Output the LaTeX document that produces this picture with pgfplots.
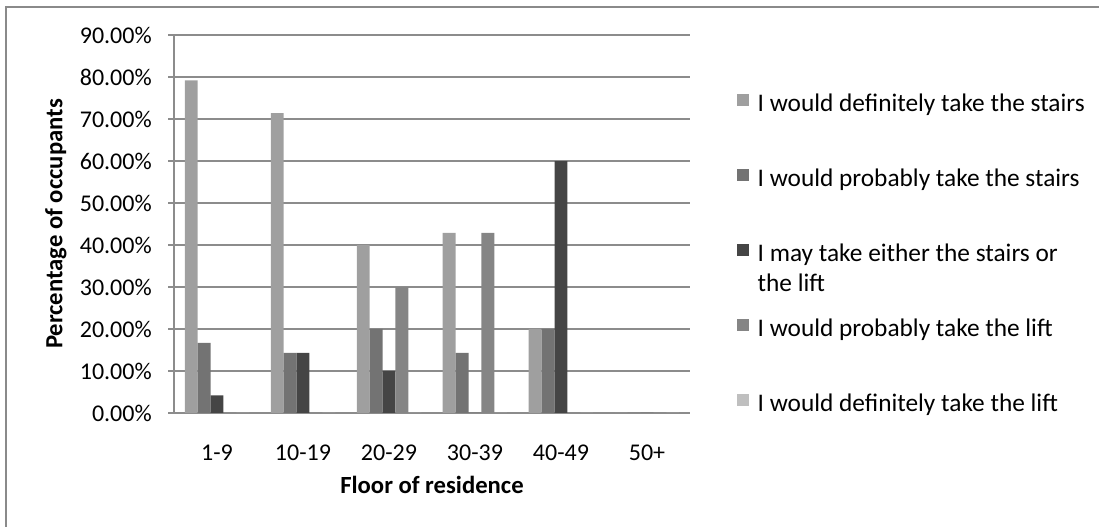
\documentclass[border=0pt]{standalone}
\usepackage{pgfplots}
\pgfplotsset{compat=1.18}
\usepackage{fontspec}
\setmainfont{Carlito}

\definecolor{gridgray}{HTML}{8C8C8C}
\definecolor{framegray}{HTML}{8A8A8A}
\definecolor{cA}{HTML}{9F9F9F}
\definecolor{cB}{HTML}{737373}
\definecolor{cC}{HTML}{454545}
\definecolor{cD}{HTML}{858585}
\definecolor{cE}{HTML}{BFBFBF}

\newcommand{\tickfont}{\fontsize{18}{22.5}\selectfont}
\newcommand{\labfont}{\fontsize{18.5}{22.5}\selectfont}
\newcommand{\legfont}{\fontsize{19}{22.5}\selectfont}

% legend square; the invisible box fixes the row pitch (56.25pt = 75px)
\pgfplotsset{
  sq/.style={draw=none, legend image code/.code={
      \path[fill=none, draw=none] (0pt,-23.625pt) rectangle (9pt,32.625pt);
      \fill[##1] (0pt,-3pt) rectangle (9pt,6pt);}},
}

\begin{document}
\begin{tikzpicture}[x=0.75pt, y=0.75pt]
\useasboundingbox (0,0) rectangle (1099,527);
\draw[framegray, line width=0.8pt] (6,0) -- (6,520) -- (1099,520);
\coordinate (O) at (174,114);

\begin{axis}[
    at={(O)}, anchor=south west,
    scale only axis,
    width=387pt, height=283.5pt,
    ybar=0pt, bar width=0.15,
    xmin=-0.5, xmax=5.5,
    ymin=0, ymax=90,
    xtick={0,...,5},
    xticklabels={1-9,10-19,20-29,30-39,40-49,50+},
    ytick={0,10,...,90},
    /pgf/number format/assume math mode=true,
    yticklabel={\pgfmathprintnumber[fixed,fixed zerofill,precision=2]{\tick}\%},
    ymajorgrids,
    grid style={gridgray, line width=1.1pt},
    axis x line*=bottom, axis y line*=left,
    axis line style={gridgray, line width=1.1pt},
    tick align=outside,
    major tick length=4.5pt,
    ytick style={gridgray, line width=1.1pt},
    xtick style={draw=none},
    ticklabel style={font=\tickfont, text=black},
    xticklabel style={anchor=base, yshift=-31.5pt, inner sep=0pt},
    yticklabel style={anchor=east, xshift=-12pt, inner sep=0pt},
    xlabel={\bfseries Floor of residence},
    ylabel={\bfseries Percentage of occupants},
    label style={font=\labfont},
    xlabel style={at={(axis description cs:0.5,-0.1905)}, anchor=center},
    ylabel style={at={(axis description cs:-0.2287,0.5)}, rotate=0, anchor=center},
    legend style={
      at={(axis description cs:1.0911,0.9379)}, anchor=north west,
      draw=none, fill=none, inner sep=0pt, outer sep=0pt,
      font=\legfont, row sep=0pt, /tikz/column sep=4.5pt,
      cells={anchor=west, inner sep=0pt},
    },
    legend cell align=left,
  ]
  \addplot[sq, fill=cA] coordinates {(0,79.2) (1,71.4) (2,40) (3,42.9) (4,20) (5,0)};
  \addplot[sq, fill=cB] coordinates {(0,16.7) (1,14.3) (2,20) (3,14.3) (4,20) (5,0)};
  \addplot[sq, fill=cC] coordinates {(0,4.2) (1,14.3) (2,10) (3,0) (4,60) (5,0)};
  \addplot[sq, fill=cD] coordinates {(0,0) (1,0) (2,30) (3,42.9) (4,0) (5,0)};
  \addplot[sq, fill=cE] coordinates {(0,0) (1,0) (2,0) (3,0) (4,0) (5,0)};
  \legend{
    I would definitely take the stairs\strut,
    I would probably take the stairs\strut,
    \raisebox{0pt}[\height][0pt]{\begin{tabular}[t]{@{}l@{}}I may take either the stairs or\\the lift\end{tabular}}\strut,
    I would probably take the lift\strut,
    I would definitely take the lift\strut}
\end{axis}
\end{tikzpicture}
\end{document}
